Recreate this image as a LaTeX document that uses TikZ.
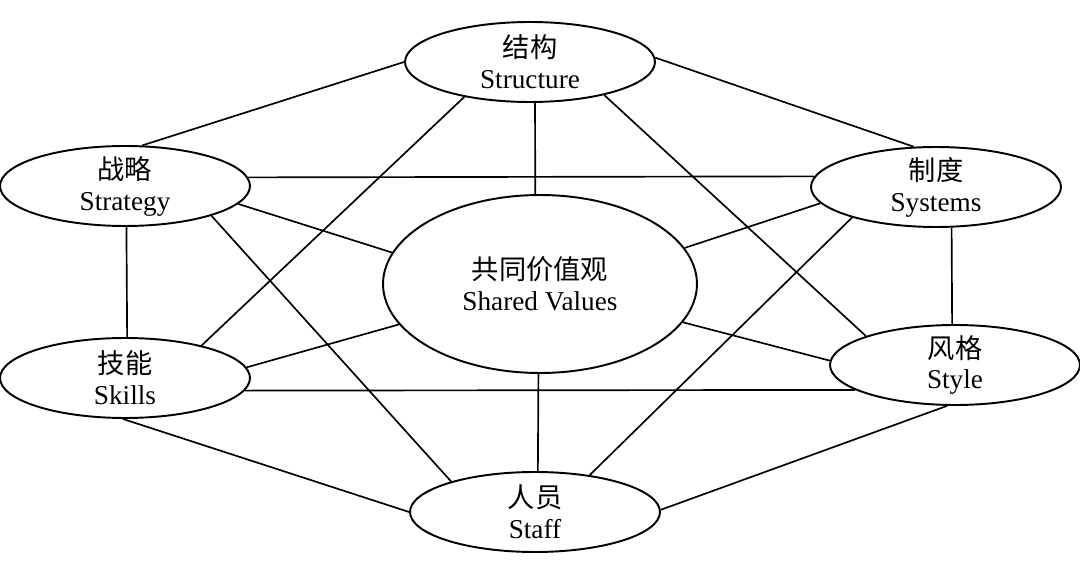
\documentclass[tikz,border=0pt]{standalone}
\usepackage{fontspec}
\setmainfont{Liberation Serif}
\newfontfamily\cjk{Noto Sans CJK SC}
\usetikzlibrary{shapes.geometric}

\begin{document}
\begin{tikzpicture}[
    x=0.02cm, y=-0.02cm,
    elem/.style={ellipse, draw, line width=1.1pt,
        minimum width=5cm, minimum height=1.6cm,
        inner sep=0pt, inner ysep=-2pt, align=center,
        font=\fontsize{15.5}{17.6}\selectfont},
    core/.style={elem, minimum width=6.28cm, minimum height=3.56cm},
    link/.style={line width=0.95pt}
]
\useasboundingbox (0,0) rectangle (1080,574);

\node[elem] (structure) at (530,62)  {{\cjk 结构}\\Structure};
\node[elem] (strategy)  at (125,186) {{\cjk 战略}\\Strategy};
\node[elem] (systems)   at (936,187) {{\cjk 制度}\\Systems};
\node[core] (values)    at (540,284) {{\cjk 共同价值观}\\Shared Values};
\node[elem] (skills)    at (125,378) {{\cjk 技能}\\Skills};
\node[elem] (style)     at (955,365) {{\cjk 风格}\\Style};
\node[elem] (staff)     at (535,512) {{\cjk 人员}\\Staff};

% outer ring
\draw[link] (structure.180) -- (strategy.67);
\draw[link] (structure.2) -- (systems.119);
\draw[link] (strategy.-88) -- (skills.87);
\draw[link] (systems.-69) -- (style.94);
\draw[link] (skills.-93) -- (staff.180);
\draw[link] (style.-101) -- (staff.1);

% cross links
\draw[link] (structure.-152) -- (skills.23);
\draw[link] (structure.-24) -- (style.162);
\draw[link] (strategy.4) -- (systems.175);
\draw[link] (strategy.-19) -- (staff.160);
\draw[link] (systems.-160) -- (staff.34);
\draw[link] (skills.-6) -- (style.-166);

% to the centre
\draw[link] (structure.-83) -- (values.93);
\draw[link] (strategy.-9) -- (values.168);
\draw[link] (systems.-172) -- (values.14);
\draw[link] (skills.5) -- (values.-164);
\draw[link] (style.178) -- (values.-15);
\draw[link] (values.-91) -- (staff.86);

\end{tikzpicture}
\end{document}
